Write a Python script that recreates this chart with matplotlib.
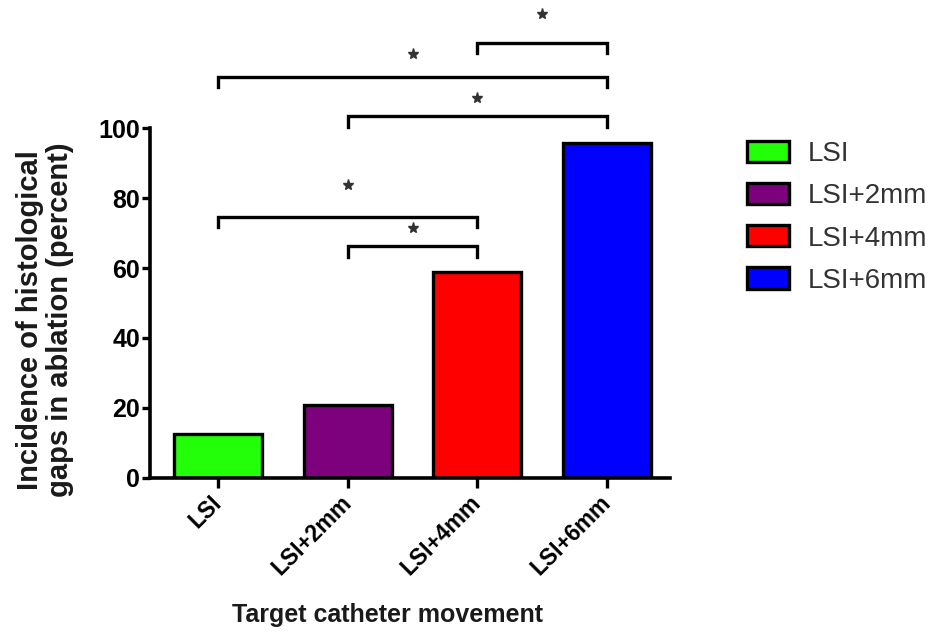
import matplotlib
matplotlib.use('Agg')
import matplotlib.pyplot as plt
from matplotlib.patches import Patch

plt.rcParams['font.family'] = ['Liberation Sans', 'DejaVu Sans']

groups = ['LSI', 'LSI+2mm', 'LSI+4mm', 'LSI+6mm']
gap_incidence = [12.5, 20.8, 58.8, 95.8]
bar_colors = ['#22ff08', '#7d007d', '#ff0000', '#0000ff']

# significance brackets: (left group, right group), bracket height, star height
comparisons = [(0, 2), (1, 2), (1, 3), (0, 3), (2, 3)]
bracket_y = [74.6, 66.2, 103.4, 114.6, 124.4]
star_y = [83.7, 71.4, 108.6, 121.1, 132.6]

fig = plt.figure(figsize=(9.35, 6.41), dpi=100)
ax = fig.add_axes([0.1604, 0.2543, 0.5562, 0.546])

x = range(len(groups))
ax.bar(x, gap_incidence, width=0.68, color=bar_colors,
       edgecolor='black', linewidth=2.4)

ax.set_xlim(-0.524, 3.485)
ax.set_ylim(0, 100)
ax.set_yticks([0, 20, 40, 60, 80, 100])
ax.set_xticks(list(x))
ax.set_xticklabels(groups, rotation=45, ha='right', va='center',
                   rotation_mode='anchor', fontsize=16.5, fontweight='bold')
for lbl in ax.get_yticklabels():
    lbl.set_fontweight('bold')
ax.tick_params(axis='y', labelsize=18, width=2.4, length=6, pad=1)
ax.tick_params(axis='x', width=2.4, length=7, pad=8)

for side in ['top', 'right']:
    ax.spines[side].set_visible(False)
for side in ['left', 'bottom']:
    ax.spines[side].set_linewidth(2.6)

leg = 3.0
for (i, j), h, s in zip(comparisons, bracket_y, star_y):
    ax.plot([i, i, j, j], [h - leg, h, h, h - leg], color='black',
            linewidth=2.4, clip_on=False, solid_joinstyle='miter')
    ax.plot((i + j) / 2, s, marker='*', markersize=8, color='#333333',
            clip_on=False)

fig.text(45 / 935, 1 - 320 / 641,
         'Incidence of histological\ngaps in ablation (percent)',
         rotation=90, ha='center', va='center', multialignment='center',
         fontsize=21, fontweight='bold', linespacing=1.12, color='#1a1a1a')
fig.text(388 / 935, 1 - 615 / 641, 'Target catheter movement',
         ha='center', va='center', fontsize=18, fontweight='bold',
         color='#1a1a1a')

handles = [Patch(facecolor=c, edgecolor='black', linewidth=2.4)
           for c in bar_colors]
fig.legend(handles, groups, loc='upper left',
           bbox_to_anchor=(747 / 935, 1 - 141 / 641), frameon=False,
           fontsize=20, handlelength=1.5, handleheight=0.8,
           labelspacing=0.57, handletextpad=0.7, borderpad=0,
           borderaxespad=0, labelcolor='#333333')

fig.savefig('out.png', dpi=100, facecolor='white')
